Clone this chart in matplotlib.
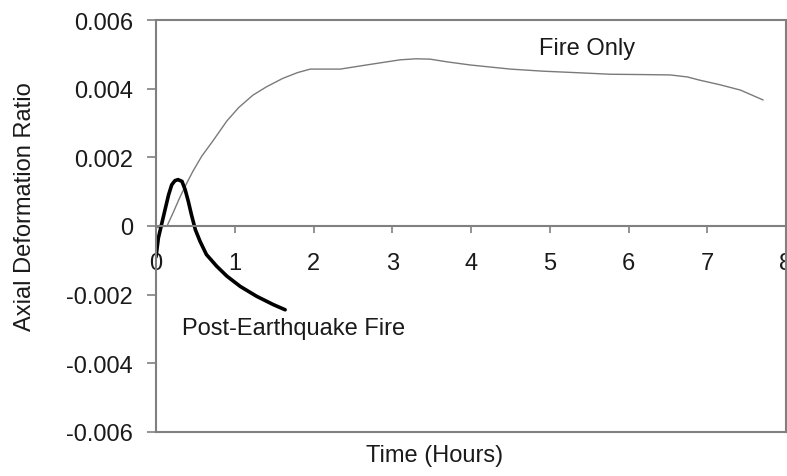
import matplotlib
matplotlib.use("Agg")
import matplotlib.pyplot as plt

plt.rcParams['font.family'] = ['Liberation Sans', 'DejaVu Sans']

# Fire Only response (hours, axial deformation ratio)
fire_t = [0.0, 0.07, 0.14, 0.22, 0.30, 0.38, 0.47, 0.58, 0.72, 0.90, 1.05, 1.23, 1.40,
          1.61, 1.80, 1.96, 2.34, 2.70, 3.10, 3.30, 3.48, 3.70, 3.99, 4.50, 4.91, 5.30,
          5.77, 6.20, 6.53, 6.75, 6.90, 7.15, 7.42, 7.71]
fire_y = [-0.00005, -0.00002, 0.0, 0.0004, 0.00082, 0.0012, 0.0016, 0.00203, 0.00247,
          0.00306, 0.00345, 0.00381, 0.00405, 0.0043, 0.00447, 0.00457, 0.00457, 0.0047,
          0.00484, 0.00487, 0.00486, 0.00478, 0.00469, 0.00457, 0.00451, 0.00447,
          0.00442, 0.00441, 0.0044, 0.00434, 0.00425, 0.00412, 0.00396, 0.00367]

# Post-Earthquake Fire response
peq_t = [0.0, 0.03, 0.07, 0.11, 0.16, 0.20, 0.24, 0.28, 0.33, 0.37, 0.41, 0.45, 0.50,
         0.56, 0.64, 0.77, 0.90, 1.07, 1.28, 1.49, 1.64]
peq_y = [-0.0009, -0.00035, 0.00004, 0.00043, 0.00091, 0.0012, 0.00132, 0.00135,
         0.0013, 0.00106, 0.00072, 0.00033, -0.00011, -0.00045, -0.00083, -0.00117,
         -0.00146, -0.00176, -0.00205, -0.00229, -0.00244]

x_ticks = [0, 1, 2, 3, 4, 5, 6, 7, 8]
y_ticks = [-0.006, -0.004, -0.002, 0, 0.002, 0.004, 0.006]
y_tick_labels = ['-0.006', '-0.004', '-0.002', '0', '0.002', '0.004', '0.006']

text_color = '#1a1a1a'
axis_color = '#808080'

fig = plt.figure(figsize=(7.87, 4.77), dpi=100)
ax = fig.add_axes([156 / 787, 44 / 477, 630 / 787, 412 / 477])

ax.plot(fire_t, fire_y, color='#7a7a7a', lw=1.0, solid_capstyle='round',
        solid_joinstyle='round')
ax.plot(peq_t, peq_y, color='black', lw=2.6, solid_capstyle='round',
        solid_joinstyle='round')

ax.set_xlim(0, 8)
ax.set_ylim(-0.006, 0.006)

# x axis crosses at zero, plot area framed
ax.spines['bottom'].set_position(('data', 0))
for s in ax.spines.values():
    s.set_color(axis_color)
    s.set_linewidth(1.5)
ax.axhline(-0.006, color=axis_color, lw=1.5, clip_on=False)

ax.set_xticks(x_ticks)
ax.set_xticklabels([str(v) for v in x_ticks])
ax.set_yticks(y_ticks)
ax.set_yticklabels(y_tick_labels)
ax.tick_params(axis='x', direction='out', length=5, width=1.2, color=axis_color,
               pad=14, labelsize=17, labelcolor=text_color)
ax.tick_params(axis='y', direction='out', length=6.5, width=1.2, color=axis_color,
               pad=10, labelsize=17, labelcolor=text_color)

ax.text(5.47, 0.00518, 'Fire Only', fontsize=17, color=text_color, ha='center', va='center')
ax.text(0.33, -0.00297, 'Post-Earthquake Fire', fontsize=17, color=text_color,
        ha='left', va='center')

fig.text(435 / 787, 1 - 456 / 477, 'Time (Hours)', fontsize=17, color=text_color,
         ha='center', va='center')
fig.text(25 / 787, 1 - 207 / 477, 'Axial Deformation Ratio', fontsize=17, color=text_color,
         ha='center', va='center', rotation=90)

fig.savefig('out.png', dpi=100)
